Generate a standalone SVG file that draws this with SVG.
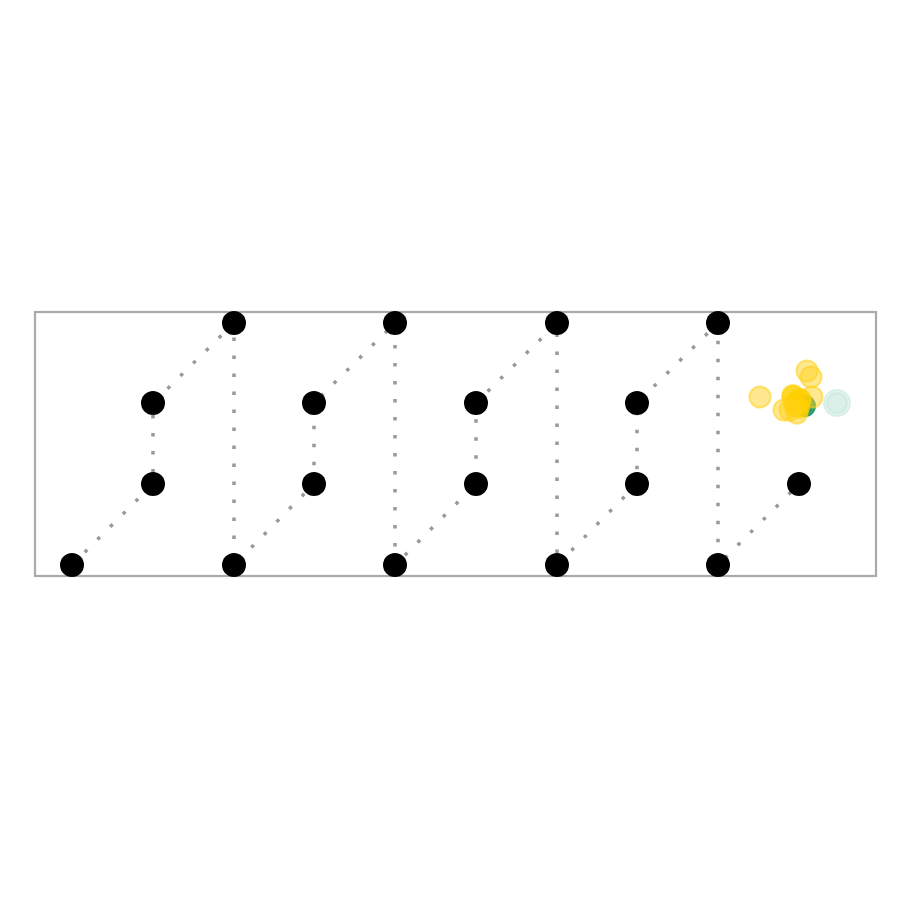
<svg xmlns="http://www.w3.org/2000/svg" width="900" height="900" viewBox="0 0 900 900">
<style>
.frame{fill:none;stroke:#aaaaaa;stroke-width:2.2}
.edge{fill:none;stroke:#999999;stroke-width:3.5;stroke-dasharray:3.5 14.5}
.node{fill:#000000}
.y{fill:#FFD21F;fill-opacity:0.5;stroke:#FFD21F;stroke-opacity:0.6;stroke-width:2}
.yd{fill:#FFD000;fill-opacity:0.85;stroke:#FFD000;stroke-opacity:0.5;stroke-width:2}
.t{fill:#bfe6d6;fill-opacity:0.35;stroke:#bfe6d6;stroke-opacity:0.5;stroke-width:2}
</style>
<rect width="900" height="900" fill="#ffffff"/>
<rect class="frame" x="35" y="312" width="841" height="264"/>
<g id="connectors">
<path class="edge" d="M72 565L153 484L153 403L234 323L234 565L314 484L314 403L395 323L395 565L476 484L476 403L557 323L557 565L637 484L637 403L718 323L718 565L799 484"/>
</g>
<g id="n1"><circle class="node" cx="72" cy="565" r="12"/></g>
<g id="n2"><circle class="node" cx="153" cy="484" r="12"/></g>
<g id="n3"><circle class="node" cx="153" cy="403" r="12"/></g>
<g id="n4"><circle class="node" cx="234" cy="323" r="12"/></g>
<g id="n5"><circle class="node" cx="234" cy="565" r="12"/></g>
<g id="n6"><circle class="node" cx="314" cy="484" r="12"/></g>
<g id="n7"><circle class="node" cx="314" cy="403" r="12"/></g>
<g id="n8"><circle class="node" cx="395" cy="323" r="12"/></g>
<g id="n9"><circle class="node" cx="395" cy="565" r="12"/></g>
<g id="n10"><circle class="node" cx="476" cy="484" r="12"/></g>
<g id="n11"><circle class="node" cx="476" cy="403" r="12"/></g>
<g id="n12"><circle class="node" cx="557" cy="323" r="12"/></g>
<g id="n13"><circle class="node" cx="557" cy="565" r="12"/></g>
<g id="n14"><circle class="node" cx="637" cy="484" r="12"/></g>
<g id="n15"><circle class="node" cx="637" cy="403" r="12"/></g>
<g id="n16"><circle class="node" cx="718" cy="323" r="12"/></g>
<g id="n17"><circle class="node" cx="718" cy="565" r="12"/></g>
<g id="n18"><circle class="node" cx="799" cy="484" r="12"/></g>
<g id="cluster">
<circle class="t" cx="837" cy="403" r="13"/>
<circle class="t" cx="837" cy="403" r="10"/>
<circle cx="805" cy="406" r="11" fill="#2a9d6f"/>
<circle class="y" cx="760" cy="397" r="10.5"/>
<circle class="y" cx="807" cy="371" r="10.5"/>
<circle class="y" cx="811" cy="377" r="10.5"/>
<circle class="y" cx="812" cy="397" r="10.5"/>
<circle class="y" cx="784" cy="410" r="10.5"/>
<circle class="y" cx="797" cy="413" r="10.5"/>
<circle class="yd" cx="793" cy="396" r="11"/>
<circle class="yd" cx="800" cy="400" r="11"/>
<circle class="yd" cx="795" cy="405" r="11"/>
<circle class="yd" cx="799" cy="408" r="10"/>
<circle class="y" cx="790" cy="410" r="10.5"/>
</g>
</svg>
